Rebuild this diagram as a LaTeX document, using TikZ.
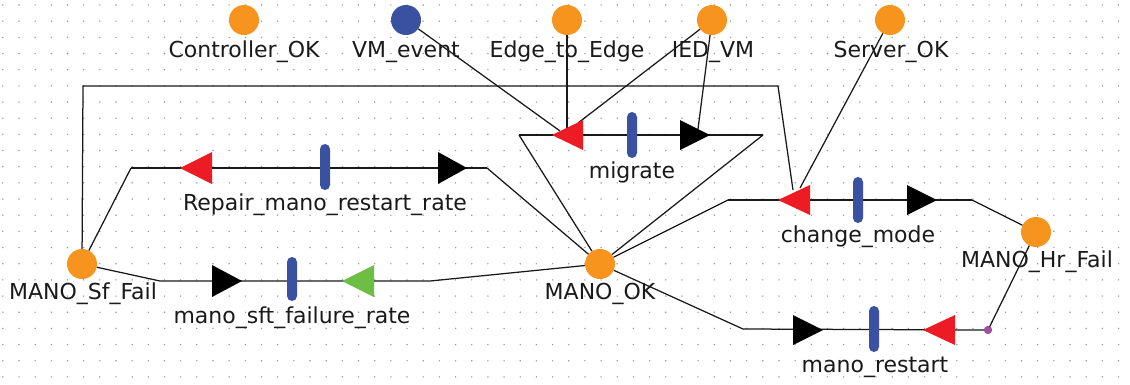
\documentclass[tikz,border=0pt]{standalone}
\usepackage{fontspec}
\setmainfont{DejaVu Sans}
\definecolor{porange}{HTML}{F7941D}
\definecolor{pblue}{HTML}{3A51A2}
\definecolor{tred}{HTML}{ED1C24}
\definecolor{tgreen}{HTML}{6CBE45}
\definecolor{ppurple}{HTML}{A24EA0}
\definecolor{txt}{HTML}{1A1A1A}
\begin{document}
\begin{tikzpicture}[x=1pt,y=-1pt,
  place/.style={circle,fill=porange,minimum size=30pt,inner sep=0pt},
  bluepl/.style={place,fill=pblue},
  bar/.style={rectangle,fill=pblue,minimum width=10pt,minimum height=46pt,rounded corners=5pt,inner sep=0pt},
  lbl/.style={anchor=base,inner sep=0pt,text=txt,font=\fontsize{22}{24}\selectfont},
  arc/.style={draw=black!90,line width=1.25pt},
  dot/.style={fill=black!40}]
\useasboundingbox (0,0) rectangle (1130,384);
\fill[white] (0,0) rectangle (1130,384);
% grid dots
\foreach \i in {0,...,69}{\foreach \j in {0,...,23}{\fill[dot] (2.8+\i*16.17,5+\j*16.17) circle (0.8);}}

% places
\node[place] (ctrl) at (244,20) {};
\node[bluepl] (vm) at (406,20) {};
\node[place] (ee) at (567,20) {};
\node[place] (ied) at (712,20) {};
\node[place] (srv) at (890,20) {};
\node[place] (msf) at (82,264) {};
\node[place] (mok) at (600,264) {};
\node[place] (mhr) at (1036,232) {};
\node[circle,fill=ppurple,minimum size=8pt,inner sep=0pt] (pd) at (988,330) {};

% labels
\node[lbl] (lctrl) at (244,57) {Controller\_OK};
\node[lbl] (lvm) at (406,57) {VM\_event};
\node[lbl] (lee) at (567,57) {Edge\_to\_Edge};
\node[lbl] (lied) at (713,57) {IED\_VM};
\node[lbl] (lsrv) at (891,57) {Server\_OK};
\node[lbl] (lmsf) at (83,299) {MANO\_Sf\_Fail};
\node[lbl] (lmok) at (600,299) {MANO\_OK};
\node[lbl] (lmhr) at (1037,267) {MANO\_Hr\_Fail};

% waypoints
\coordinate (mL) at (519,135); \coordinate (mR) at (763,135);
\coordinate (rL) at (131,168); \coordinate (rR) at (487,168);
\coordinate (cL) at (728,200); \coordinate (cR) at (972,200);
\coordinate (sL) at (160,281); \coordinate (sR) at (430,281);
\coordinate (tL) at (743,329);
\coordinate (lp1) at (83,86); \coordinate (lp2) at (778,86);
\coordinate (mRedA) at (560,131); \coordinate (mRedB) at (567,128); \coordinate (mRedC) at (578,123);
\coordinate (mBlk) at (698,129);
\coordinate (cRedA) at (793,190); \coordinate (cRedB) at (800,188);

% arcs
\draw[arc] (mL) -- (mR);
\draw[arc] (rL) -- (rR);
\draw[arc] (cL) -- (cR);
\draw[arc] (vm) -- (mRedA);
\draw[arc] (ee) -- (mRedB);
\draw[arc] (ied) -- (mRedC);
\draw[arc] (ied) -- (mBlk);
\draw[arc] (mok) -- (mL);
\draw[arc] (mok) -- (mR);
\draw[arc] (msf) -- (rL);
\draw[arc] (rR) -- (mok);
\draw[arc] (msf) -- (lp1) -- (lp2) -- (cRedA);
\draw[arc] (srv) -- (cRedB);
\draw[arc] (mok) -- (cL);
\draw[arc] (cR) -- (mhr);
\draw[arc] (msf) -- (sL) -- (sR) -- (mok);
\draw[arc] (mok) -- (tL) -- (pd.center);
\draw[arc] (pd.center) -- (mhr);

% triangles
\fill[tred] (552,135) -- (583,120) -- (583,150) -- cycle;
\fill[black] (680,120) -- (710,135) -- (680,150) -- cycle;
\fill[tred] (180,168) -- (212,152) -- (212,184) -- cycle;
\fill[black] (438,152) -- (467,168) -- (438,184) -- cycle;
\fill[tred] (778,200) -- (810,185) -- (810,215) -- cycle;
\fill[black] (907,185) -- (937,200) -- (907,215) -- cycle;
\fill[black] (212,265) -- (242,281) -- (212,297) -- cycle;
\fill[tgreen] (342,281) -- (374,265) -- (374,297) -- cycle;
\fill[black] (793,315) -- (823,330) -- (793,345) -- cycle;
\fill[tred] (923,330) -- (955,315) -- (955,345) -- cycle;

% transition bars
\node[bar] (migrate) at (632,135) {};
\node[bar] (repair) at (325,167) {};
\node[bar] (change) at (858,200) {};
\node[bar,minimum height=44pt] (sft) at (292,279) {};
\node[bar] (restart) at (874,329) {};
\node[circle,fill=ppurple,minimum size=8pt,inner sep=0pt] at (pd) {};

% transition labels
\node[lbl] (lmig) at (632,178) {migrate};
\node[lbl] (lrep) at (325,210) {Repair\_mano\_restart\_rate};
\node[lbl] (lchg) at (858,242) {change\_mode};
\node[lbl] (lsft) at (292,323) {mano\_sft\_failure\_rate};
\node[lbl] (lrst) at (875,372) {mano\_restart};
\end{tikzpicture}
\end{document}
